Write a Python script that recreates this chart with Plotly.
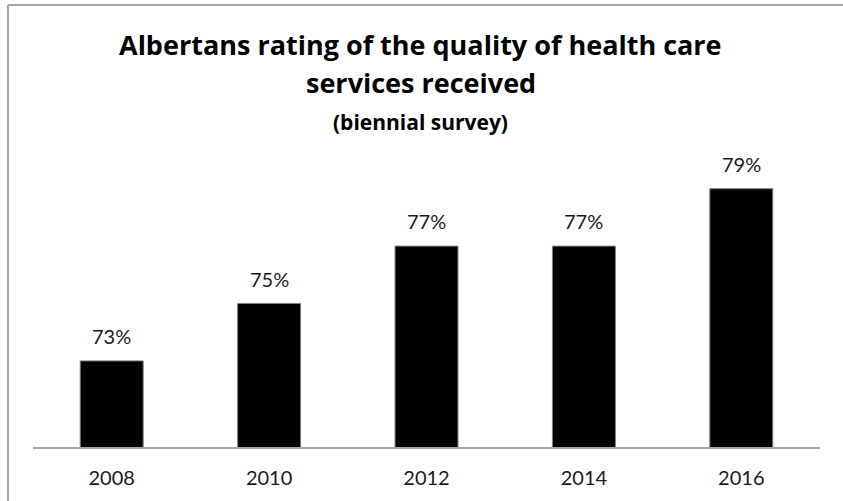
import plotly.graph_objects as go

# Survey years and the share of Albertans rating care quality favourably
years = ["2008", "2010", "2012", "2014", "2016"]
ratings = [73, 75, 77, 77, 79]

title_line1 = "Albertans rating of the quality of health care"
title_line2 = "services received"
subtitle = "(biennial survey)"

FONT = "Lato, 'Open Sans', sans-serif"
TITLE_FONT = "'Open Sans', Lato, sans-serif"
TEXT_COLOR = "#1a1a1a"

W, H = 843, 501
L, R, T, B = 33, 23, 160, 54
plot_w = W - L - R
plot_h = H - T - B


def px_x(p):
    """Pixel column -> paper x."""
    return (p - L) / plot_w


def px_y(p):
    """Pixel row -> paper y."""
    return (H - B - p) / plot_h


fig = go.Figure(
    go.Bar(
        x=years,
        y=ratings,
        width=0.4,
        marker=dict(color="#000000", line=dict(color="#7f7f7f", width=1)),
        hoverinfo="skip",
    )
)

# Value labels above each bar (x given as category index)
for i, v in enumerate(ratings):
    fig.add_annotation(
        x=i, y=v, xref="x", yref="y",
        text=f"{v}%", showarrow=False,
        yanchor="bottom", yshift=11,
        font=dict(family=FONT, size=20, color=TEXT_COLOR),
    )

# Title block
for text, row, size in [
    (title_line1, 44, 27),
    (title_line2, 82, 27),
    (subtitle, 122, 21),
]:
    fig.add_annotation(
        x=px_x(W / 2 - 1), y=px_y(row), xref="paper", yref="paper",
        text=f"<b>{text}</b>", showarrow=False,
        xanchor="center", yanchor="middle",
        font=dict(family=TITLE_FONT, size=size, color="#000000"),
    )

# Chart frame (left and top edges)
frame = dict(color="#a6a6a6", width=2)
fig.add_shape(type="line", xref="paper", yref="paper",
              x0=px_x(8), x1=px_x(8), y0=px_y(5), y1=px_y(H + 5), line=frame)
fig.add_shape(type="line", xref="paper", yref="paper",
              x0=px_x(8), x1=px_x(W + 5), y0=px_y(5), y1=px_y(5), line=frame)

fig.update_layout(
    width=W, height=H,
    margin=dict(l=L, r=R, t=T, b=B, autoexpand=False),
    paper_bgcolor="#ffffff",
    plot_bgcolor="#ffffff",
    showlegend=False,
    font=dict(family=FONT, color=TEXT_COLOR),
    xaxis=dict(
        type="category",
        range=[-0.5, len(years) - 0.5],
        automargin=False,
        showline=True, linecolor="#a6a6a6", linewidth=1.5,
        showgrid=False, zeroline=False,
        ticks="", ticklabelstandoff=12,
        tickfont=dict(family=FONT, size=20, color=TEXT_COLOR),
    ),
    yaxis=dict(
        range=[70, 80], visible=False, showgrid=False, zeroline=False,
        automargin=False,
    ),
)

fig.write_html("out.html")
